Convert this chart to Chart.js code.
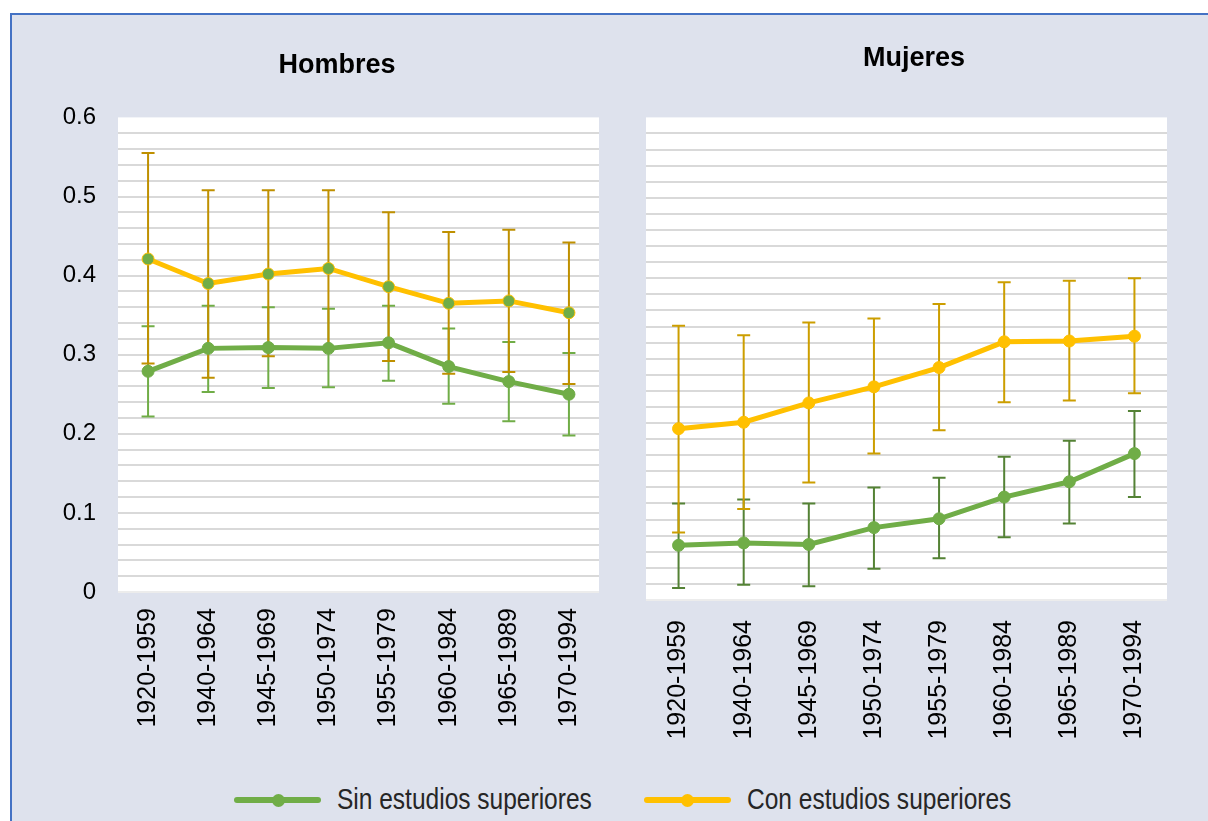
<!DOCTYPE html>
<html lang="es">
<head>
    <meta charset="UTF-8">
    <title>Hombres / Mujeres</title>
    <script src="https://cdn.jsdelivr.net/npm/chart.js"></script>
    <style>
        body {
            margin: 0;
            width: 1208px;
            height: 821px;
            overflow: hidden;
            background: #ffffff;
            position: relative;
        }

        #panel {
            position: absolute;
            left: 10px;
            top: 13px;
            width: 1220px;
            height: 830px;
            background: #DEE2ED;
            border-left: 2px solid #4472C4;
            border-top: 2px solid #4472C4;
        }

        canvas {
            position: absolute;
        }

        #chart-h { left: 0; top: 13px; }
        #chart-m { left: 620px; top: 13px; }

        .leg-line {
            position: absolute;
            height: 6px;
            border-radius: 3px;
        }

        .leg-dot {
            position: absolute;
            width: 13px;
            height: 13px;
            border-radius: 50%;
        }

        .leg-text {
            position: absolute;
            font-family: 'Liberation Sans', Arial, sans-serif;
            font-size: 30px;
            color: #262626;
            line-height: 1;
            white-space: nowrap;
            transform: scaleX(0.817);
            transform-origin: left center;
        }
    </style>
</head>
<body>
    <div id="panel"></div>
    <canvas id="chart-h" width="654" height="760"></canvas>
    <canvas id="chart-m" width="588" height="760"></canvas>

    <div class="leg-line" style="left:234px; top:797px; width:87px; background:#70AD47;"></div>
    <div class="leg-dot" style="left:272px; top:794px; background:#70AD47;"></div>
    <div class="leg-text" style="left:337px; top:784px;">Sin estudios superiores</div>

    <div class="leg-line" style="left:644px; top:797px; width:87px; background:#FFC000;"></div>
    <div class="leg-dot" style="left:681px; top:794px; background:#FFC000;"></div>
    <div class="leg-text" style="left:747px; top:784px;">Con estudios superiores</div>

    <script>
        const periodos = ['1920-1959', '1940-1964', '1945-1969', '1950-1974', '1955-1979', '1960-1984', '1965-1989', '1970-1994'];

        // Hombres
        const hSin = [0.279, 0.308, 0.309, 0.308, 0.315, 0.285, 0.266, 0.250];
        const hSinLo = [0.222, 0.253, 0.258, 0.259, 0.267, 0.238, 0.216, 0.198];
        const hSinHi = [0.336, 0.362, 0.360, 0.358, 0.362, 0.333, 0.316, 0.302];
        const hCon = [0.421, 0.390, 0.402, 0.409, 0.386, 0.365, 0.368, 0.353];
        const hConLo = [0.289, 0.271, 0.298, 0.308, 0.292, 0.276, 0.278, 0.263];
        const hConHi = [0.555, 0.508, 0.508, 0.508, 0.480, 0.455, 0.458, 0.442];

        // Mujeres
        const mSin = [0.068, 0.071, 0.069, 0.090, 0.101, 0.128, 0.147, 0.182];
        const mSinLo = [0.015, 0.019, 0.017, 0.039, 0.052, 0.078, 0.095, 0.128];
        const mSinHi = [0.120, 0.125, 0.120, 0.140, 0.152, 0.178, 0.198, 0.235];
        const mCon = [0.213, 0.221, 0.245, 0.265, 0.289, 0.321, 0.322, 0.328];
        const mConLo = [0.084, 0.113, 0.146, 0.182, 0.211, 0.246, 0.248, 0.257];
        const mConHi = [0.341, 0.329, 0.345, 0.350, 0.368, 0.395, 0.397, 0.400];

        const yMin = 0;
        const yMax = 0.6;
        const yStep = 0.02;

        const VERDE = '#70AD47';
        const AMARILLO = '#FFC000';
        const sansFont = "'Liberation Sans', Arial, sans-serif";

        // white plot background
        const plotBg = {
            id: 'plotBg',
            beforeDraw(chart) {
                const { ctx, chartArea: a } = chart;
                ctx.save();
                ctx.fillStyle = '#ffffff';
                ctx.fillRect(a.left, a.top, a.right - a.left, a.bottom - a.top);
                ctx.restore();
            }
        };

        // vertical error bars with caps, drawn under the lines
        const errorBars = {
            id: 'errorBars',
            beforeDatasetsDraw(chart) {
                const ctx = chart.ctx;
                const y = chart.scales.y;
                chart.data.datasets.forEach((ds, i) => {
                    const meta = chart.getDatasetMeta(i);
                    ctx.save();
                    ctx.strokeStyle = ds.errColor;
                    ctx.lineWidth = 2;
                    meta.data.forEach((pt, j) => {
                        const top = y.getPixelForValue(ds.errHi[j]);
                        const bot = y.getPixelForValue(ds.errLo[j]);
                        ctx.beginPath();
                        ctx.moveTo(pt.x, top);
                        ctx.lineTo(pt.x, bot);
                        ctx.moveTo(pt.x - 6.5, top);
                        ctx.lineTo(pt.x + 6.5, top);
                        ctx.moveTo(pt.x - 6.5, bot);
                        ctx.lineTo(pt.x + 6.5, bot);
                        ctx.stroke();
                    });
                    ctx.restore();
                });
            }
        };

        function serie(label, data, lo, hi, color, pointColor, pointBorder, errColor) {
            return {
                label: label,
                data: data,
                errLo: lo,
                errHi: hi,
                errColor: errColor,
                borderColor: color,
                backgroundColor: color,
                borderWidth: 5,
                pointRadius: 6,
                pointBorderWidth: 1,
                pointBackgroundColor: pointColor,
                pointBorderColor: pointBorder,
                tension: 0
            };
        }

        function gridColor(ctx) {
            const v = Math.round(ctx.tick.value * 100) / 100;
            if (v >= yMax) return 'rgba(0,0,0,0)';
            if (v <= yMin) return '#ECECEC';
            return '#D9D9D9';
        }

        function yTickLabel(value) {
            const v = Math.round(value * 100) / 100;
            return Math.round(v * 100) % 10 === 0 ? String(v) : '';
        }

        function xScale(height, pad) {
            return {
                type: 'category',
                offset: true,
                grid: { display: false },
                border: { display: false },
                ticks: {
                    minRotation: 90,
                    maxRotation: 90,
                    padding: pad,
                    color: '#000000',
                    font: { family: sansFont, size: 25 }
                },
                afterFit: s => { s.height = height; }
            };
        }

        function yScale(width, showLabels) {
            return {
                min: yMin,
                max: yMax,
                border: { display: false },
                grid: { color: gridColor, lineWidth: 2, drawTicks: false },
                ticks: {
                    display: showLabels,
                    stepSize: yStep,
                    autoSkip: false,
                    padding: 22,
                    color: '#000000',
                    font: { family: sansFont, size: 24 },
                    callback: yTickLabel
                },
                afterFit: s => { s.width = width; }
            };
        }

        // empty right-hand box, only there so the title centres like the reference
        function spacer(width) {
            return {
                type: 'linear',
                position: 'right',
                grid: { display: false },
                border: { display: false },
                ticks: { display: false },
                afterFit: s => { s.width = width; }
            };
        }

        new Chart(document.getElementById('chart-h'), {
            type: 'line',
            data: {
                labels: periodos,
                datasets: [
                    serie('Sin estudios superiores', hSin, hSinLo, hSinHi, VERDE, VERDE, VERDE, '#70AD47'),
                    serie('Con estudios superiores', hCon, hConLo, hConHi, AMARILLO, VERDE, AMARILLO, '#BF9000')
                ]
            },
            options: {
                responsive: false,
                animation: false,
                layout: { padding: { left: 20, right: 0, top: 0, bottom: 0 } },
                plugins: {
                    legend: { display: false },
                    tooltip: { enabled: false },
                    title: {
                        display: true,
                        text: 'Hombres',
                        color: '#000000',
                        font: { family: sansFont, size: 27, weight: 'bold' },
                        padding: { top: 36, bottom: 36 }
                    }
                },
                scales: {
                    x: xScale(181, 8),
                    y: yScale(98, true),
                    yR: spacer(55)
                }
            },
            plugins: [plotBg, errorBars]
        });

        new Chart(document.getElementById('chart-m'), {
            type: 'line',
            data: {
                labels: periodos,
                datasets: [
                    serie('Sin estudios superiores', mSin, mSinLo, mSinHi, VERDE, VERDE, VERDE, '#548235'),
                    serie('Con estudios superiores', mCon, mConLo, mConHi, AMARILLO, AMARILLO, AMARILLO, '#CC9E00')
                ]
            },
            options: {
                responsive: false,
                animation: false,
                layout: { padding: 0 },
                plugins: {
                    legend: { display: false },
                    tooltip: { enabled: false },
                    title: {
                        display: true,
                        text: 'Mujeres',
                        color: '#000000',
                        font: { family: sansFont, size: 27, weight: 'bold' },
                        padding: { top: 29, bottom: 43 }
                    }
                },
                scales: {
                    x: xScale(173, 12),
                    y: yScale(26, false),
                    yR: spacer(41)
                }
            },
            plugins: [plotBg, errorBars]
        });
    </script>
</body>
</html>
